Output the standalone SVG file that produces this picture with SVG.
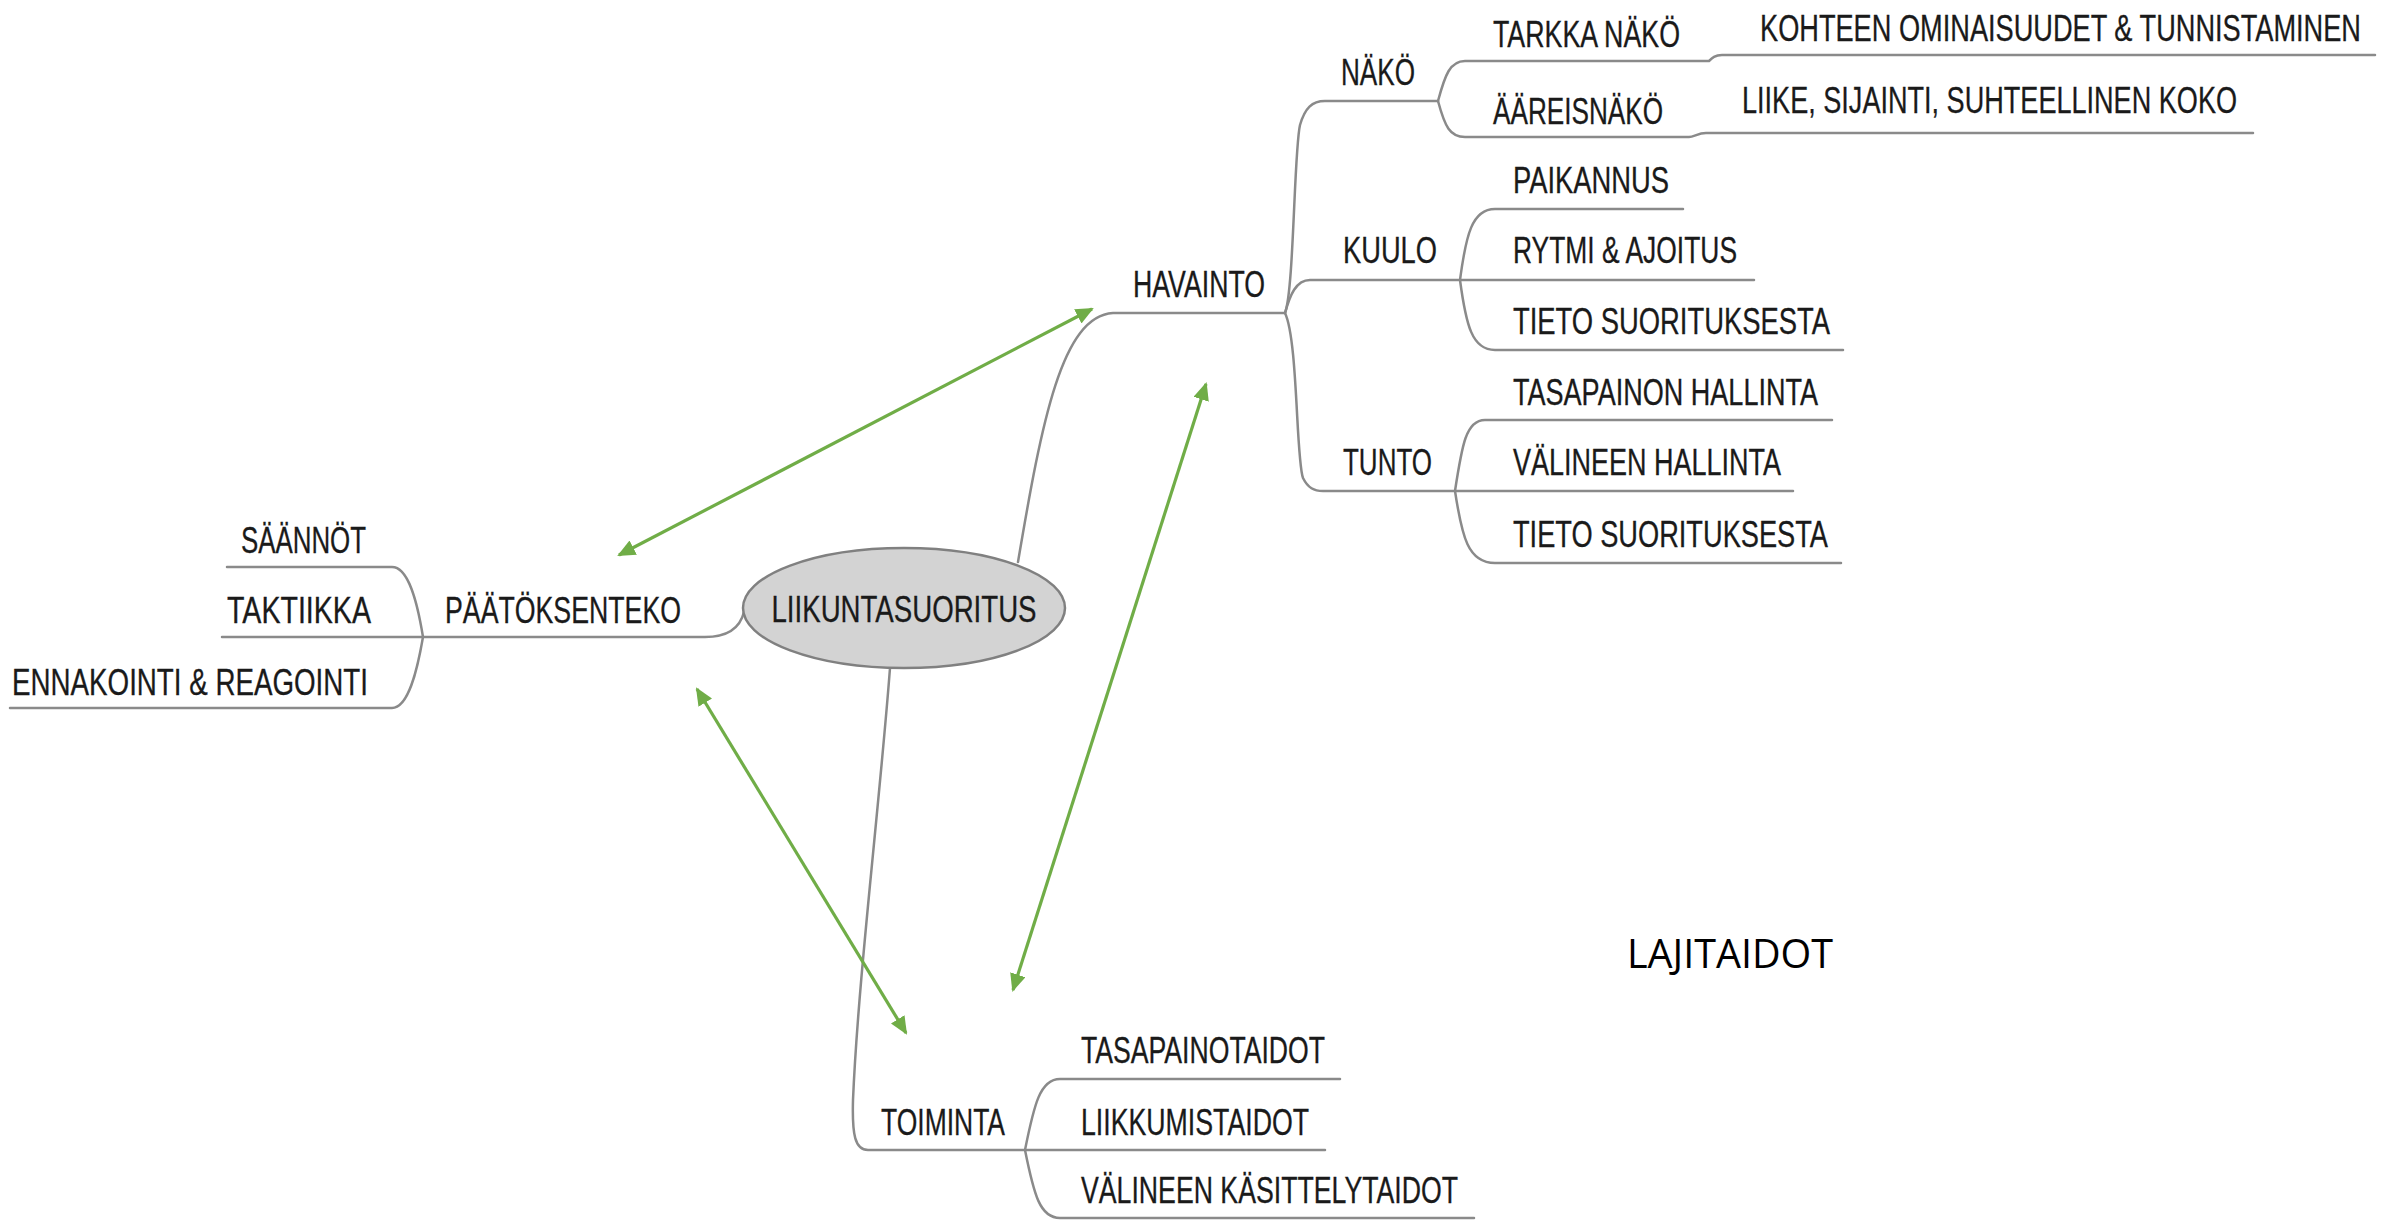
<svg xmlns="http://www.w3.org/2000/svg" width="2396" height="1221" viewBox="0 0 2396 1221">
<defs>
<style>
.t{font-family:"Liberation Sans",Arial,sans-serif;font-size:36px;fill:#1a1a1a;stroke:#1a1a1a;stroke-width:0.3}
.b{fill:none;stroke:#8a8a8a;stroke-width:2.5;stroke-linecap:round}
.a{fill:none;stroke:#70ad47;stroke-width:3.2}
.lj{font-family:"Open Sans","Noto Sans",sans-serif;font-size:40px;fill:#000}
</style>
<marker id="ah" viewBox="0 0 18 16" markerWidth="18" markerHeight="16" refX="16" refY="8" orient="auto-start-reverse" markerUnits="userSpaceOnUse">
<path d="M0,0 L18,8 L0,16 z" fill="#70ad47"/>
</marker>
</defs>
<rect width="2396" height="1221" fill="#fff"/>

<g id="branches">
<path class="b" d="M227,567 H392 C408,567 417,600 423,637"/>
<path class="b" d="M222,637 H705 C728,637 740,628 744,612"/>
<path class="b" d="M10,708 H392 C408,708 417,672 423,637"/>
<path class="b" d="M1018,562 C1042,420 1062,316 1113,313 H1285"/>
<path class="b" d="M1285,313 C1294,290 1294,150 1300,125 C1305,108 1312,101 1325,101 H1438"/>
<path class="b" d="M1285,313 C1290,295 1296,280 1310,280 H1460"/>
<path class="b" d="M1285,313 C1298,340 1296,460 1303,478 C1308,488 1314,491 1323,491 H1455"/>
<path class="b" d="M1438,101 C1445,75 1450,61 1465,61 H1709 C1712,58 1715,55 1722,55 H2375"/>
<path class="b" d="M1438,101 C1445,127 1450,137 1465,137 H1689 C1694,137 1698,133 1706,133 H2253"/>
<path class="b" d="M1460,280 C1466,235 1472,209 1495,209 H1683"/>
<path class="b" d="M1460,280 H1754"/>
<path class="b" d="M1460,280 C1466,325 1472,350 1495,350 H1843"/>
<path class="b" d="M1455,491 C1462,445 1466,420 1485,420 H1832"/>
<path class="b" d="M1455,491 H1793"/>
<path class="b" d="M1455,491 C1462,537 1468,563 1495,563 H1841"/>
<path class="b" d="M890,668 C880,800 858,980 853,1100 C852,1135 855,1150 868,1150 H1025"/>
<path class="b" d="M1025,1150 C1034,1105 1040,1079 1060,1079 H1340"/>
<path class="b" d="M1025,1150 H1325"/>
<path class="b" d="M1025,1150 C1034,1195 1040,1218 1060,1218 H1474"/>
</g>

<g id="center">
<ellipse cx="904" cy="608" rx="161" ry="60" fill="#d3d3d3" stroke="#808080" stroke-width="2.5"/>
<text class="t" x="904" y="622" text-anchor="middle" textLength="265" lengthAdjust="spacingAndGlyphs">LIIKUNTASUORITUS</text>
</g>

<g id="paatoksenteko"><text class="t" x="445" y="623" textLength="236" lengthAdjust="spacingAndGlyphs">PÄÄTÖKSENTEKO</text></g>
<g id="saannot"><text class="t" x="241" y="553" textLength="125" lengthAdjust="spacingAndGlyphs">SÄÄNNÖT</text></g>
<g id="taktiikka"><text class="t" x="227" y="623" textLength="144" lengthAdjust="spacingAndGlyphs">TAKTIIKKA</text></g>
<g id="ennakointi"><text class="t" x="12" y="695" textLength="356" lengthAdjust="spacingAndGlyphs">ENNAKOINTI &amp; REAGOINTI</text></g>

<g id="havainto"><text class="t" x="1133" y="297" textLength="132" lengthAdjust="spacingAndGlyphs">HAVAINTO</text></g>
<g id="nako"><text class="t" x="1341" y="85" textLength="74" lengthAdjust="spacingAndGlyphs">NÄKÖ</text></g>
<g id="tarkka"><text class="t" x="1493" y="47" textLength="187" lengthAdjust="spacingAndGlyphs">TARKKA NÄKÖ</text></g>
<g id="kohteen"><text class="t" x="1760" y="41" textLength="601" lengthAdjust="spacingAndGlyphs">KOHTEEN OMINAISUUDET &amp; TUNNISTAMINEN</text></g>
<g id="aareis"><text class="t" x="1493" y="124" textLength="170" lengthAdjust="spacingAndGlyphs">ÄÄREISNÄKÖ</text></g>
<g id="liike"><text class="t" x="1742" y="113" textLength="495" lengthAdjust="spacingAndGlyphs">LIIKE, SIJAINTI, SUHTEELLINEN KOKO</text></g>
<g id="kuulo"><text class="t" x="1343" y="263" textLength="94" lengthAdjust="spacingAndGlyphs">KUULO</text></g>
<g id="paikannus"><text class="t" x="1513" y="193" textLength="156" lengthAdjust="spacingAndGlyphs">PAIKANNUS</text></g>
<g id="rytmi"><text class="t" x="1513" y="263" textLength="224" lengthAdjust="spacingAndGlyphs">RYTMI &amp; AJOITUS</text></g>
<g id="tieto1"><text class="t" x="1513" y="334" textLength="317" lengthAdjust="spacingAndGlyphs">TIETO SUORITUKSESTA</text></g>
<g id="tunto"><text class="t" x="1343" y="475" textLength="89" lengthAdjust="spacingAndGlyphs">TUNTO</text></g>
<g id="tasapainon"><text class="t" x="1513" y="405" textLength="305" lengthAdjust="spacingAndGlyphs">TASAPAINON HALLINTA</text></g>
<g id="valineen"><text class="t" x="1513" y="475" textLength="268" lengthAdjust="spacingAndGlyphs">VÄLINEEN HALLINTA</text></g>
<g id="tieto2"><text class="t" x="1513" y="547" textLength="315" lengthAdjust="spacingAndGlyphs">TIETO SUORITUKSESTA</text></g>

<g id="toiminta"><text class="t" x="881" y="1135" textLength="124" lengthAdjust="spacingAndGlyphs">TOIMINTA</text></g>
<g id="tasapainotaidot"><text class="t" x="1081" y="1063" textLength="244" lengthAdjust="spacingAndGlyphs">TASAPAINOTAIDOT</text></g>
<g id="liikkumistaidot"><text class="t" x="1081" y="1135" textLength="228" lengthAdjust="spacingAndGlyphs">LIIKKUMISTAIDOT</text></g>
<g id="kasittely"><text class="t" x="1081" y="1203" textLength="377" lengthAdjust="spacingAndGlyphs">VÄLINEEN KÄSITTELYTAIDOT</text></g>

<g id="lajitaidot"><text class="lj" x="1627" y="968" textLength="206" lengthAdjust="spacingAndGlyphs">LAJITAIDOT</text></g>

<g id="connectors">
<path class="a" d="M619,555 L1092,309" marker-start="url(#ah)" marker-end="url(#ah)"/>
<path class="a" d="M697,689 L906,1033" marker-start="url(#ah)" marker-end="url(#ah)"/>
<path class="a" d="M1206,384 L1013,990" marker-start="url(#ah)" marker-end="url(#ah)"/>
</g>
</svg>
